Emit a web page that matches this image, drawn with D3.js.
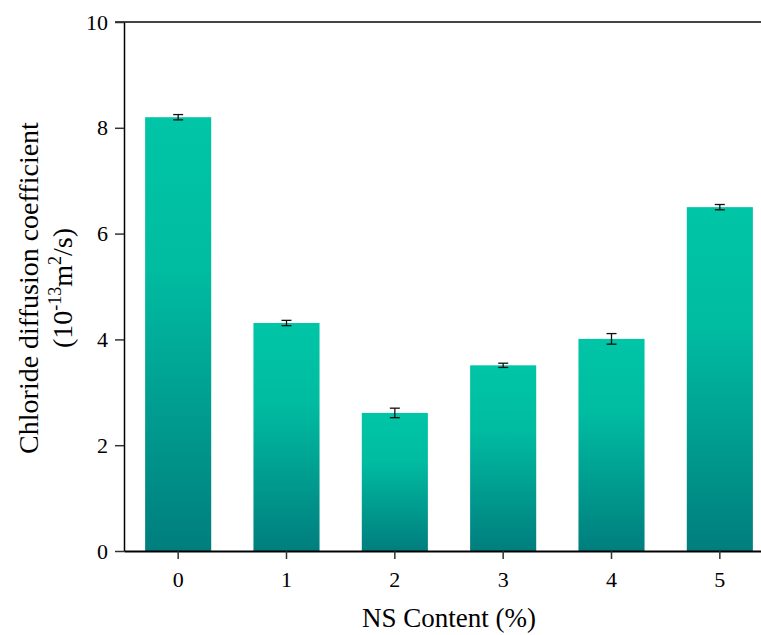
<!DOCTYPE html>
<html><head><meta charset="utf-8">
<script src="https://cdn.jsdelivr.net/npm/d3@7"></script>
<style>body{margin:0;background:#fff}svg{display:block}text{font-family:"Liberation Serif","Times New Roman",serif;fill:#000}</style>
</head><body>
<script>
const categories = ["0","1","2","3","4","5"];
const values = [8.2, 4.31, 2.61, 3.51, 4.01, 6.5];
const errors = [0.05, 0.05, 0.09, 0.04, 0.1, 0.05];
const yTicks = [0, 2, 4, 6, 8, 10];

const W = 761, H = 635;
const svg = d3.select("body").append("svg").attr("width", W).attr("height", H);
const x = d3.scaleBand().domain(categories).range([124, 774]).paddingInner(0.39).paddingOuter(0.195);
const y = d3.scaleLinear().domain([0, 10]).range([551, 22]);

const defs = svg.append("defs");
const g = defs.append("linearGradient").attr("id", "barGrad").attr("x1", 0).attr("y1", 0).attr("x2", 0).attr("y2", 1);
g.append("stop").attr("offset", "0%").attr("stop-color", "#00C5A6");
g.append("stop").attr("offset", "35%").attr("stop-color", "#00BCA1");
g.append("stop").attr("offset", "100%").attr("stop-color", "#007E7E");

const data = categories.map((c, i) => ({c, v: values[i], e: errors[i]}));

svg.selectAll("rect.bar").data(data).enter().append("rect").attr("class", "bar")
  .attr("x", d => x(d.c)).attr("width", x.bandwidth())
  .attr("y", d => y(d.v)).attr("height", d => y(0) - y(d.v))
  .attr("fill", "url(#barGrad)");

const eb = svg.selectAll("g.err").data(data).enter().append("g").attr("class", "err")
  .attr("stroke", "#111").attr("stroke-width", 1.3);
eb.append("line").attr("x1", d => x(d.c) + x.bandwidth()/2).attr("x2", d => x(d.c) + x.bandwidth()/2)
  .attr("y1", d => y(d.v + d.e)).attr("y2", d => y(d.v - d.e));
eb.append("line").attr("x1", d => x(d.c) + x.bandwidth()/2 - 5).attr("x2", d => x(d.c) + x.bandwidth()/2 + 5)
  .attr("y1", d => y(d.v + d.e)).attr("y2", d => y(d.v + d.e));
eb.append("line").attr("x1", d => x(d.c) + x.bandwidth()/2 - 5).attr("x2", d => x(d.c) + x.bandwidth()/2 + 5)
  .attr("y1", d => y(d.v - d.e)).attr("y2", d => y(d.v - d.e));

svg.append("line").attr("x1", 115).attr("x2", W).attr("y1", y(10)).attr("y2", y(10))
  .attr("stroke", "#444").attr("stroke-width", 2);

const yAxis = svg.append("g").attr("transform", "translate(124,0)")
  .call(d3.axisLeft(y).tickValues(yTicks).tickSize(9).tickPadding(7).tickSizeOuter(0));
yAxis.select(".domain").attr("stroke", "#000").attr("stroke-width", 1.5);
yAxis.selectAll(".tick line").attr("stroke", "#333").attr("stroke-width", 1.5);
yAxis.selectAll(".tick text").style("font-size", "22px").style("font-family", "Liberation Serif");

const xAxis = svg.append("g").attr("transform", "translate(0,551)")
  .call(d3.axisBottom(x).tickSize(8).tickPadding(12).tickSizeOuter(0));
xAxis.select(".domain").attr("stroke", "#000").attr("stroke-width", 2.2);
xAxis.selectAll(".tick line").attr("stroke", "#333").attr("stroke-width", 1.5);
xAxis.selectAll(".tick text").style("font-size", "22px").style("font-family", "Liberation Serif");

svg.append("text").attr("x", 449).attr("y", 627).attr("text-anchor", "middle")
  .style("font-size", "27px").text("NS Content (%)");

const yt = svg.append("g").attr("transform", "translate(0,288) rotate(-90)");
yt.append("text").attr("x", 0).attr("y", 38).attr("text-anchor", "middle")
  .style("font-size", "28px").text("Chloride diffusion coefficient");
const t2 = yt.append("text").attr("x", 0).attr("y", 72).attr("text-anchor", "middle").style("font-size", "28px");
t2.append("tspan").text("(10");
t2.append("tspan").attr("dy", -11).style("font-size", "18px").text("-13");
t2.append("tspan").attr("dy", 11).text("m");
t2.append("tspan").attr("dy", -11).style("font-size", "18px").text("2");
t2.append("tspan").attr("dy", 11).text("/s)");
</script>
</body></html>
